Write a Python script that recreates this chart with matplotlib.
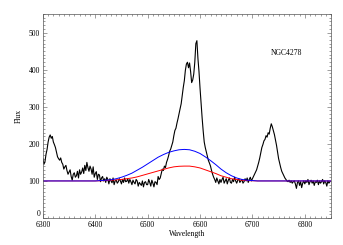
import numpy as np
import matplotlib
matplotlib.use("Agg")
import matplotlib.pyplot as plt
import matplotlib.transforms as mtransforms
from matplotlib.ticker import MultipleLocator

# observed spectrum, 2 A sampling from 6300
wave_start = 6300
wave_step = 2
flux = [160, 145, 152, 172, 185, 205, 218, 224, 215, 220,
        205, 198, 190, 178, 165, 160, 156, 162, 150, 145,
        132, 138, 142, 128, 118, 124, 130, 112, 102, 118,
        122, 110, 114, 126, 108, 130, 118, 124, 135, 120,
        142, 128, 150, 136, 126, 140, 132, 118, 138, 110,
        120, 125, 104, 118, 116, 98, 108, 112, 100, 106,
        96, 110, 104, 92, 106, 100, 95, 108, 90, 100,
        102, 94, 98, 106, 100, 92, 104, 96, 108, 98,
        99, 106, 94, 104, 98, 90, 102, 96, 92, 104,
        100, 86, 96, 92, 88, 100, 84, 96, 98, 90,
        90, 104, 96, 86, 102, 94, 84, 98, 96, 90,
        112, 104, 108, 120, 132, 128, 140, 136, 150, 158,
        168, 180, 186, 196, 205, 222, 236, 242, 256, 268,
        282, 295, 308, 330, 352, 370, 398, 415, 420, 405,
        418, 395, 365, 372, 388, 420, 470, 478, 430, 395,
        350, 310, 270, 235, 205, 190, 178, 165, 155, 148,
        140, 128, 118, 110, 104, 96, 108, 100, 92, 104,
        96, 104, 110, 94, 100, 106, 92, 102, 108, 96,
        94, 104, 98, 110, 100, 94, 102, 106, 96, 100,
        104, 94, 98, 106, 100, 108, 96, 104, 110, 100,
        106, 112, 118, 124, 130, 140, 150, 162, 176, 190,
        198, 208, 212, 222, 218, 230, 226, 242, 254, 246,
        236, 225, 210, 196, 178, 160, 148, 136, 126, 120,
        114, 108, 104, 100, 98, 102, 96, 100, 94, 98,
        100, 92, 80, 96, 100, 88, 98, 82, 94, 100,
        92, 100, 96, 104, 90, 98, 102, 94, 100, 88,
        98, 96, 102, 90, 100, 94, 98, 104, 92, 100,
        96, 86, 100, 94, 98]

# model components, 10 A sampling
model_wave = list(range(6300, 6851, 10))
blue_model = [100] * 11 + [101, 102, 103, 106, 110, 115, 121, 129, 137, 146,
                           155, 164, 171, 177, 181, 184, 185, 184, 180, 174,
                           165, 155, 144, 132, 122, 114, 108, 104, 102, 101] + [100] * 15
red_model = [100] * 11 + [100.5, 101, 102, 103, 104, 106, 108, 111, 115, 119,
                          123, 127, 131, 135, 138, 139.5, 140, 140, 138, 135,
                          130, 125, 120, 114, 110, 106, 104, 102, 101, 100.5] + [100] * 15

label = "NGC4278"

wave = wave_start + wave_step * np.arange(len(flux))

plt.rcParams['font.family'] = ['Liberation Serif', 'DejaVu Serif']
plt.rcParams['font.size'] = 5.5

fig = plt.figure(figsize=(3.43, 2.45), dpi=100)
ax = fig.add_axes([0.125, 0.110, 0.840, 0.833])

ax.plot(wave, flux, color='black', lw=0.8)
ax.plot(model_wave, red_model, color='red', lw=0.7)
ax.plot(model_wave, blue_model, color='blue', lw=0.7)

ax.text(6735, 446, label, fontsize=5.5, va='center')

ax.set_xlim(6300, 6850)
ax.set_ylim(0, 550)
ax.xaxis.set_major_locator(MultipleLocator(100))
ax.xaxis.set_minor_locator(MultipleLocator(10))
ax.yaxis.set_major_locator(MultipleLocator(100))
ax.yaxis.set_minor_locator(MultipleLocator(10))
ax.tick_params(which='both', direction='in', top=True, right=True,
               width=0.4, colors='#555555', labelcolor='black', pad=2)
ax.tick_params(which='major', length=3)
ax.tick_params(which='minor', length=1.5)
for s in ax.spines.values():
    s.set_linewidth(0.5)
    s.set_color('#555555')

ax.set_xlabel("Wavelength", labelpad=1)
ax.set_ylabel("Flux", labelpad=4)

# lift the "0" label clear of the x labels, as in the original
fig.canvas.draw()
lift = mtransforms.ScaledTranslation(0, 3.5 / 72, fig.dpi_scale_trans)
for t in ax.yaxis.get_major_ticks():
    if t.label1.get_text() == '0':
        t.label1.set_transform(t.label1.get_transform() + lift)

fig.savefig("out.png", dpi=100)
